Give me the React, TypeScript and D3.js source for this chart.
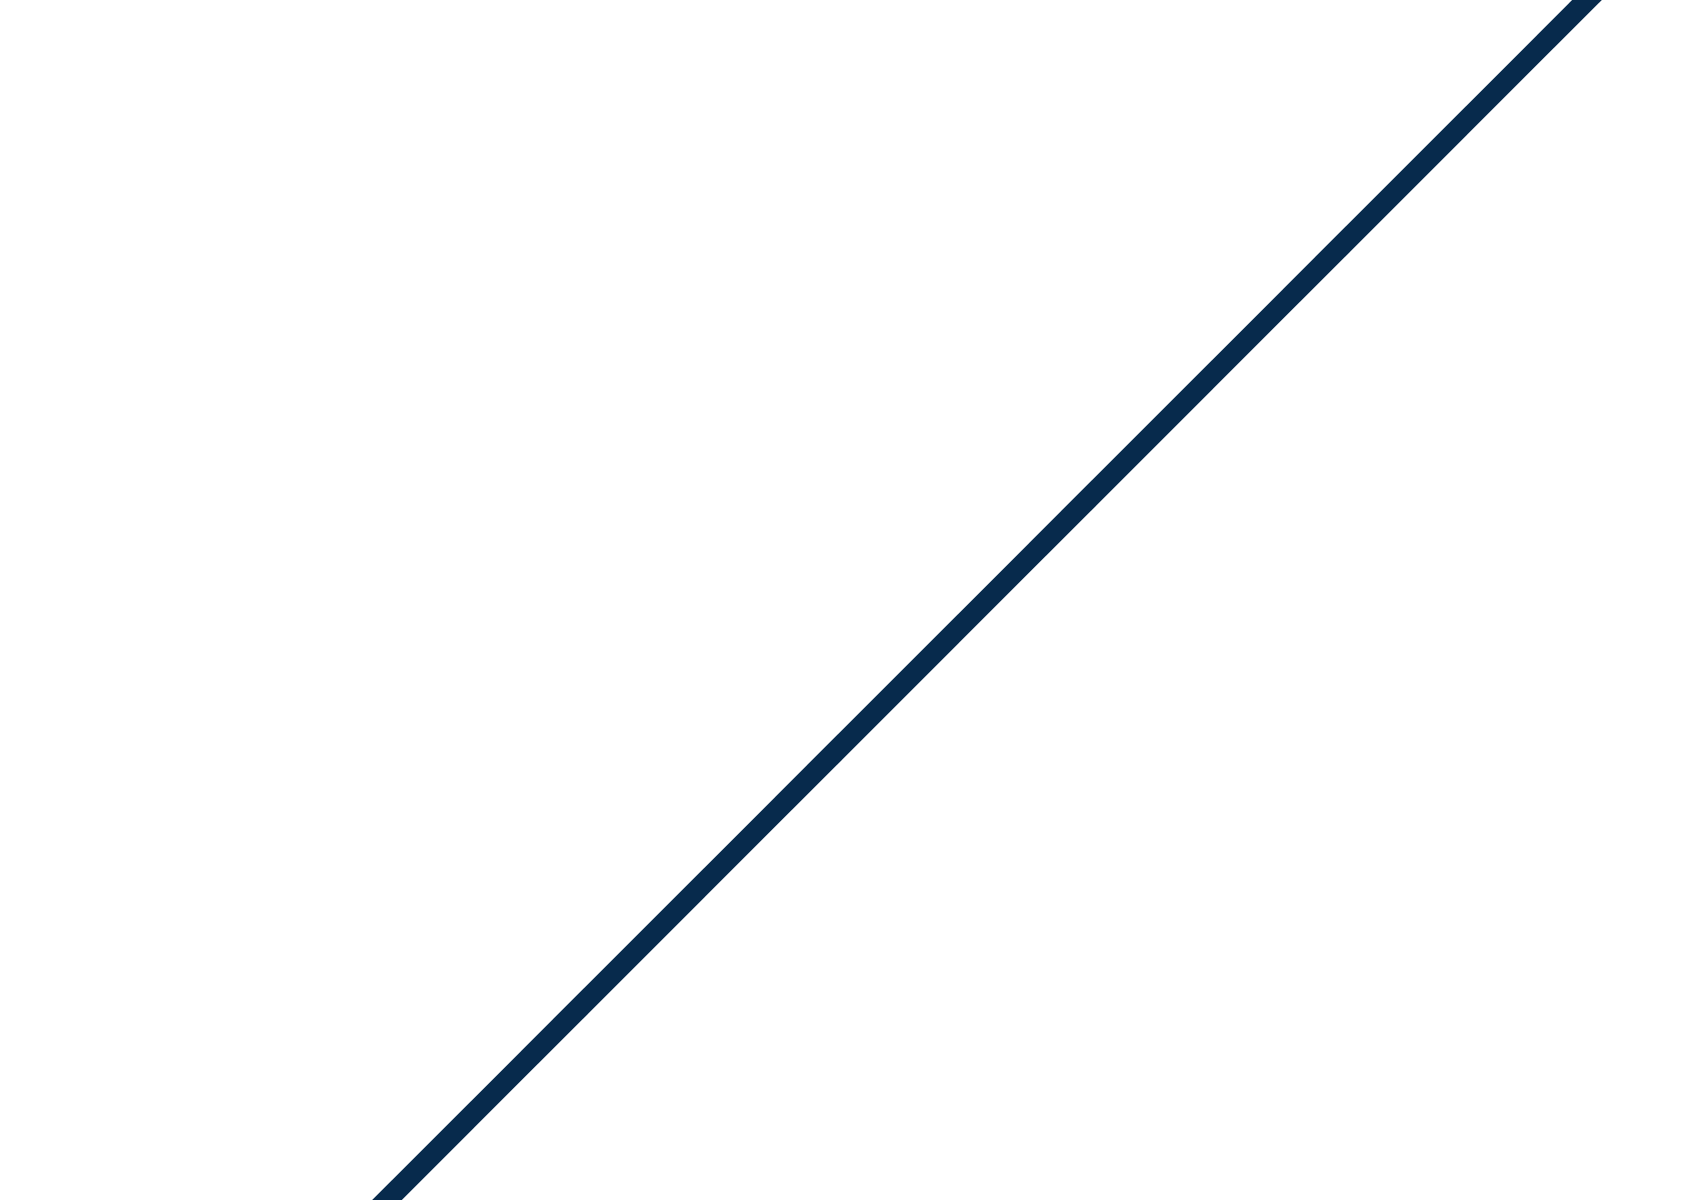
import { useEffect, useRef } from "react";
import * as d3 from "d3";

// single series, runs off both edges of the plot
const xValues = [-0.1, 1.1];
const yValues = [-0.1, 1.1];

const WIDTH = 1700;
const HEIGHT = 1200;
const LINE_COLOR = "#072a4c";

export default function App() {
  const svgRef = useRef<SVGSVGElement | null>(null);

  useEffect(() => {
    const svg = d3.select(svgRef.current)
      .attr("width", WIDTH)
      .attr("height", HEIGHT)
      .attr("viewBox", `0 0 ${WIDTH} ${HEIGHT}`);

    svg.selectAll("*").remove();

    // white background
    svg.append("rect")
      .attr("width", WIDTH)
      .attr("height", HEIGHT)
      .attr("fill", "#ffffff");

    const x = d3.scaleLinear().domain([0, 1]).range([387, 1587]);
    const y = d3.scaleLinear().domain([0, 1]).range([HEIGHT, 0]);

    const points = xValues.map((v, i) => ({ x: v, y: yValues[i] }));

    const line = d3.line<{ x: number; y: number }>()
      .x(d => x(d.x))
      .y(d => y(d.y));

    svg.append("path")
      .datum(points)
      .attr("d", line)
      .attr("fill", "none")
      .attr("stroke", LINE_COLOR)
      .attr("stroke-width", 21);
  }, []);

  return (
    <div style={{ position: "absolute", left: 0, top: 0 }}>
      <svg ref={svgRef} style={{ display: "block" }} />
    </div>
  );
}
